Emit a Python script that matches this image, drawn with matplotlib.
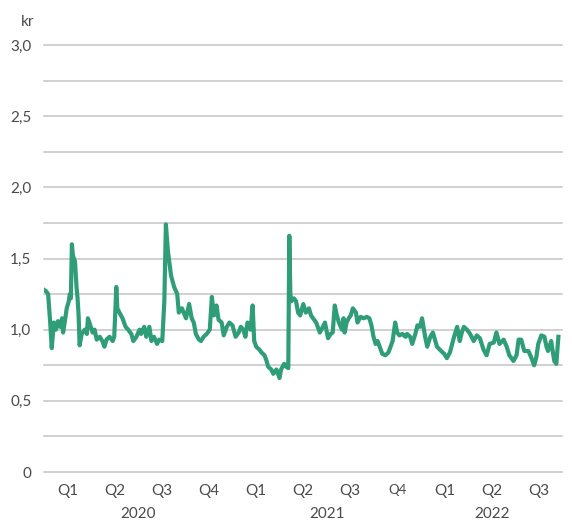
import matplotlib.pyplot as plt
import numpy as np
import pandas as pd

# Daily price (kr)
dates = [
    "2020-01-01", "2020-01-05", "2020-01-09", "2020-01-13", "2020-01-16", "2020-01-20",
    "2020-01-24", "2020-01-28", "2020-02-01", "2020-02-05", "2020-02-07", "2020-02-10",
    "2020-02-14", "2020-02-18", "2020-02-20", "2020-02-22", "2020-02-24", "2020-02-26",
    "2020-03-01", "2020-03-04", "2020-03-06", "2020-03-08", "2020-03-10", "2020-03-14",
    "2020-03-20", "2020-03-24", "2020-03-26", "2020-03-29", "2020-04-04", "2020-04-08",
    "2020-04-12", "2020-04-18", "2020-04-23", "2020-04-27", "2020-05-01", "2020-05-07",
    "2020-05-13", "2020-05-16", "2020-05-20", "2020-05-22", "2020-05-26", "2020-06-01",
    "2020-06-07", "2020-06-12", "2020-06-18", "2020-06-22", "2020-06-28", "2020-07-04",
    "2020-07-07", "2020-07-13", "2020-07-17", "2020-07-23", "2020-07-27", "2020-08-01",
    "2020-08-07", "2020-08-11", "2020-08-17", "2020-08-21", "2020-08-24", "2020-08-28",
    "2020-09-03", "2020-09-09", "2020-09-15", "2020-09-18", "2020-09-24", "2020-10-02",
    "2020-10-08", "2020-10-13", "2020-10-17", "2020-10-21", "2020-10-27", "2020-10-31",
    "2020-11-05", "2020-11-11", "2020-11-17", "2020-11-21", "2020-11-25", "2020-11-29",
    "2020-11-30", "2020-12-04", "2020-12-10", "2020-12-14", "2020-12-20", "2020-12-25",
    "2020-12-31", "2021-01-06", "2021-01-12", "2021-01-16", "2021-01-21", "2021-01-25",
    "2021-01-29", "2021-02-04", "2021-02-08", "2021-02-11", "2021-02-15", "2021-02-21",
    "2021-02-25", "2021-03-03", "2021-03-07", "2021-03-10", "2021-03-16", "2021-03-20",
    "2021-03-26", "2021-04-01", "2021-04-04", "2021-04-10", "2021-04-14", "2021-04-18",
    "2021-04-20", "2021-04-22", "2021-04-24", "2021-04-29", "2021-05-03", "2021-05-07",
    "2021-05-11", "2021-05-17", "2021-05-22", "2021-05-28", "2021-06-01", "2021-06-05",
    "2021-06-11", "2021-06-14", "2021-06-18", "2021-06-24", "2021-06-28", "2021-07-04",
    "2021-07-09", "2021-07-13", "2021-07-17", "2021-07-21", "2021-07-25", "2021-07-31",
    "2021-08-03", "2021-08-05", "2021-08-09", "2021-08-13", "2021-08-17", "2021-08-21",
    "2021-08-27", "2021-08-30", "2021-09-05", "2021-09-11", "2021-09-17", "2021-09-22",
    "2021-09-26", "2021-09-30", "2021-10-04", "2021-10-08", "2021-10-12", "2021-10-17",
    "2021-10-23", "2021-10-29", "2021-11-06", "2021-11-11", "2021-11-15", "2021-11-19",
    "2021-11-25", "2021-12-01", "2021-12-04", "2021-12-10", "2021-12-14", "2021-12-20",
    "2021-12-24", "2021-12-29", "2022-01-02", "2022-01-08", "2022-01-12", "2022-01-18",
    "2022-01-23", "2022-01-31", "2022-02-08", "2022-02-14", "2022-02-19", "2022-02-25",
    "2022-03-05", "2022-03-11", "2022-03-16", "2022-03-20", "2022-03-24", "2022-03-30",
    "2022-04-05", "2022-04-12", "2022-04-18", "2022-04-24", "2022-05-01", "2022-05-07",
    "2022-05-13", "2022-05-21", "2022-05-26", "2022-06-01", "2022-06-09", "2022-06-15",
    "2022-06-20", "2022-06-28", "2022-07-04", "2022-07-08", "2022-07-13", "2022-07-19",
    "2022-07-27", "2022-08-02", "2022-08-07", "2022-08-11", "2022-08-15", "2022-08-21",
    "2022-08-27", "2022-08-31", "2022-09-03", "2022-09-09", "2022-09-15", "2022-09-19",
    "2022-09-23",
]
values = [
    1.28, 1.27, 1.25, 1.05, 0.87, 1.05,
    1.00, 1.06, 1.02, 1.08, 0.98, 1.05,
    1.15, 1.20, 1.25, 1.22, 1.60, 1.52,
    1.48, 1.30, 1.22, 1.10, 0.89, 0.97,
    1.00, 0.97, 1.08, 1.05, 0.98, 1.00,
    0.93, 0.95, 0.92, 0.88, 0.93, 0.95,
    0.92, 0.95, 1.30, 1.15, 1.12, 1.08,
    1.02, 1.00, 0.97, 0.92, 0.95, 1.00,
    0.97, 1.02, 0.95, 1.02, 0.92, 0.95,
    0.90, 0.93, 0.92, 1.20, 1.74, 1.55,
    1.38, 1.30, 1.25, 1.12, 1.15, 1.08,
    1.18, 1.08, 1.05, 0.97, 0.93, 0.92,
    0.95, 0.97, 1.00, 1.23, 1.10, 1.12,
    1.17, 1.07, 1.05, 0.96, 1.02, 1.05,
    1.03, 0.95, 0.98, 1.02, 1.00, 0.95,
    1.05, 1.00, 1.17, 0.92, 0.88, 0.86,
    0.84, 0.82, 0.78, 0.74, 0.72, 0.69,
    0.72, 0.66, 0.72, 0.76, 0.74, 0.73,
    1.66, 1.25, 1.20, 1.22, 1.20, 1.12,
    1.10, 1.18, 1.12, 1.15, 1.10, 1.08,
    1.05, 1.02, 0.98, 1.02, 1.05, 0.94,
    0.97, 0.98, 1.17, 1.10, 1.05, 1.00,
    1.08, 0.98, 1.05, 1.08, 1.10, 1.15,
    1.12, 1.05, 1.09, 1.08, 1.09, 1.08,
    1.03, 0.95, 0.90, 0.92, 0.88, 0.83,
    0.82, 0.84, 0.92, 1.05, 0.98, 0.96,
    0.97, 0.95, 0.97, 0.95, 0.90, 0.97,
    1.03, 1.02, 1.08, 0.95, 0.88, 0.95,
    0.98, 0.88, 0.85, 0.83, 0.80, 0.84,
    0.95, 1.02, 0.92, 0.98, 1.02, 1.00,
    0.97, 0.92, 0.96, 0.94, 0.86, 0.82,
    0.90, 0.91, 0.98, 0.90, 0.93, 0.88,
    0.82, 0.78, 0.82, 0.93, 0.93, 0.85,
    0.85, 0.80, 0.75, 0.80, 0.90, 0.96,
    0.95, 0.88, 0.85, 0.92, 0.78, 0.76,
    0.95,
]
quarter_labels = ["Q1", "Q2", "Q3", "Q4", "Q1", "Q2", "Q3", "Q4", "Q1", "Q2", "Q3"]
year_labels = ["2020", "2021", "2022"]

LINE_COLOR = "#2f9e78"
GRID_COLOR = "#c4c4c4"
TEXT_COLOR = "#4a4a4a"

plt.rcParams["font.family"] = ["Lato", "DejaVu Sans"]

dates = pd.to_datetime(dates)
start = pd.Timestamp("2020-01-01")
end = pd.Timestamp("2022-09-30")

fig = plt.figure(figsize=(5.72, 5.23), dpi=100)
ax = fig.add_axes([44 / 572, 51 / 523, 518 / 572, 427 / 523])

ax.plot(dates, values, color=LINE_COLOR, linewidth=3.0, solid_joinstyle="round")

ax.set_xlim(start, end)
ax.set_ylim(0, 3.0)

yticks = np.arange(0, 3.01, 0.5)
ax.set_yticks(yticks, ["0" if v == 0 else f"{v:.1f}".replace(".", ",") for v in yticks])
ax.set_yticks(np.arange(0, 3.01, 0.25), minor=True)
ax.grid(axis="y", which="both", color=GRID_COLOR, linewidth=1.1)
for tick in ax.yaxis.get_major_ticks() + ax.yaxis.get_minor_ticks():
    tick.gridline.set_clip_on(False)
ax.set_axisbelow(True)

# quarter labels centred in each quarter
q_starts = pd.date_range(start, periods=len(quarter_labels) + 1, freq="QS")
q_centers = q_starts[:-1] + (q_starts[1:] - q_starts[:-1]) / 2
ax.set_xticks(q_centers, quarter_labels)

ax.tick_params(axis="y", which="both", length=0, pad=9, labelsize=11, labelcolor=TEXT_COLOR)
ax.tick_params(axis="x", length=0, pad=9, labelsize=11, labelcolor=TEXT_COLOR)
# the 2021 Q4 label is set a little smaller in the original
ax.get_xticklabels()[7].set_fontsize(9.5)

for s in ax.spines.values():
    s.set_visible(False)

# year labels centred under the visible part of each year
for label in year_labels:
    y0 = max(pd.Timestamp(f"{label}-01-01"), start)
    y1 = min(pd.Timestamp(f"{int(label) + 1}-01-01"), end)
    ax.text(y0 + (y1 - y0) / 2, -0.098, label, transform=ax.get_xaxis_transform(),
            ha="center", va="center", fontsize=11, color=TEXT_COLOR)

fig.text(28 / 572, 1 - 22 / 523, "kr", ha="center", va="center", fontsize=11, color=TEXT_COLOR)

fig.savefig("out.png", dpi=100)
